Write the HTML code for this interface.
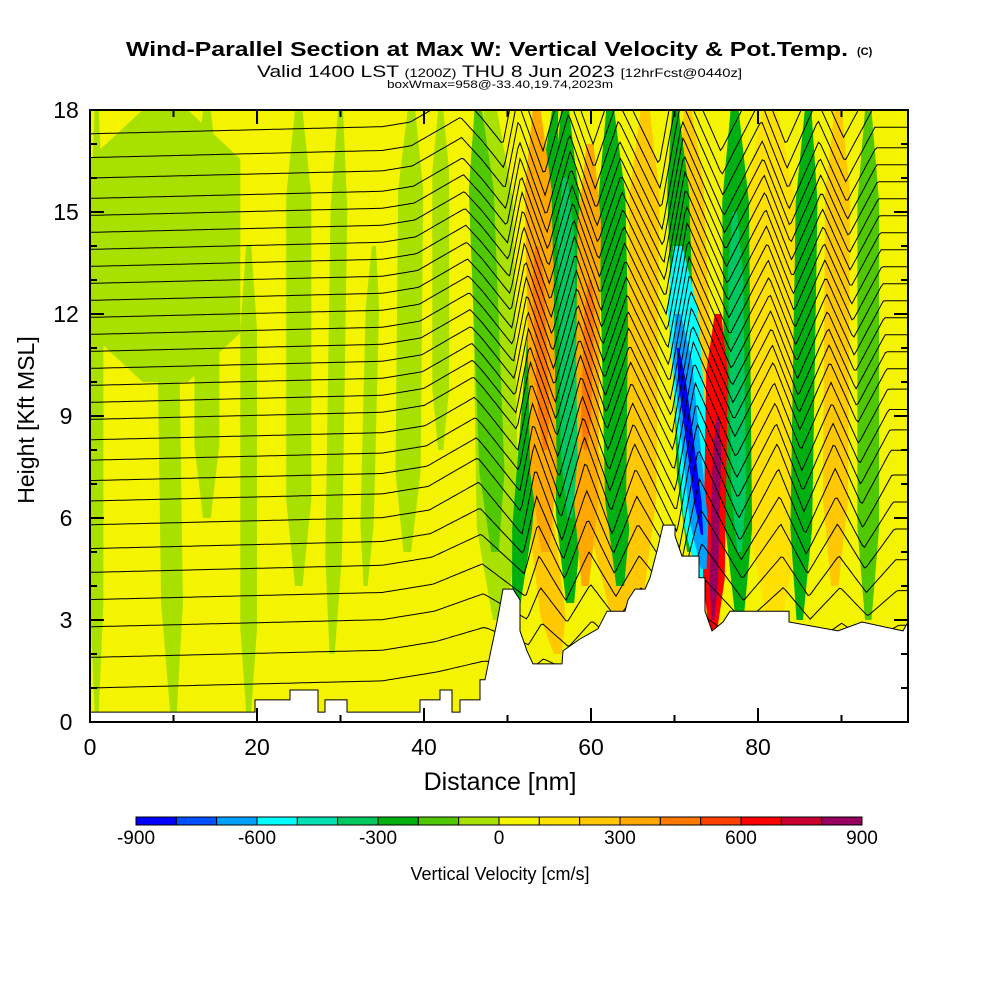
<!DOCTYPE html>
<html><head><meta charset="utf-8"><style>
html,body{margin:0;padding:0;background:#fff;width:1000px;height:1000px;overflow:hidden}
svg{display:block;font-family:"Liberation Sans",Arial,sans-serif}
</style></head><body>
<svg id="chart" width="1000" height="1000" viewBox="0 0 1000 1000">
<defs><clipPath id="plotclip"><rect x="90" y="110" width="818" height="612"/></clipPath></defs>
<text x="126" y="56" font-size="20" font-weight="bold" textLength="722" lengthAdjust="spacingAndGlyphs">Wind-Parallel Section at Max W: Vertical Velocity &amp; Pot.Temp.</text>
<text x="857" y="55" font-size="11" font-weight="bold">(C)</text>
<text x="257" y="77" font-size="17" textLength="485" lengthAdjust="spacingAndGlyphs">Valid 1400 LST <tspan font-size="12">(1200Z)</tspan> THU 8 Jun 2023 <tspan font-size="12">[12hrFcst@0440z]</tspan></text>
<text x="387" y="88" font-size="11" textLength="226" lengthAdjust="spacingAndGlyphs">boxWmax=958@-33.40,19.74,2023m</text>
<g id="plot" clip-path="url(#plotclip)">
<rect x="90" y="110" width="818" height="612" fill="#f4f400"/>
<g id="bands"></g>
<g id="contours"></g>
<path id="terrain" fill="#fff" stroke="#000" stroke-width="1"/>
</g>
<rect x="90" y="110" width="818" height="612" fill="none" stroke="#000" stroke-width="2"/>
<g id="axes"></g>
<text x="500" y="790" font-size="25" text-anchor="middle">Distance [nm]</text>
<text transform="translate(34,420) rotate(-90)" font-size="23" text-anchor="middle">Height [Kft MSL]</text>
<g id="colorbar"></g>
<text x="500" y="880" font-size="18" text-anchor="middle">Vertical Velocity [cm/s]</text>
</svg>
<script>
// colour scale
const wLevels = [-900,-800,-700,-600,-500,-400,-300,-200,-100,0,100,200,300,400,500,600,700,800,900];
const wColors = ["#0000ff","#0050ff","#00a0ff","#00ffff","#00e0b0","#00c860","#00b010","#50c800","#a8e000","#f4f400","#ffe000","#ffc800","#ffa800","#ff7800","#ff4000","#ff0000","#c80030","#980060"];
const cbTicks = [-900,-600,-300,0,300,600,900];
// velocity bands: top nm, bottom nm, half width nm, value cm/s, top kft, bottom kft
const bandTop = [0.8,9,9,14,19,25,30,34,38.5,42,48,46.5,55.7,53.5,53.5,56.9,56.9,59.9,59.9,62.3,66.5,70.1,71.6,70.4,70.4,70.4,75.2,75.2,77.2,77.2,81.4,86,89.6,93.2,53,60];
const bandBot = [0.8,9,10,14,19,25,29,33,38,42,49,48.5,50.9,54.5,54.5,57.5,57.5,59.3,59.3,63.5,65.9,71.9,73.7,73.5,73.5,73.3,74.6,74.6,77.8,77.8,82,85,89.2,93.2,56,66];
const bandHw  = [0.8,9,1.3,1.5,1.0,1.5,1.0,0.8,1.5,1.0,2.5,1.5,1.2,1.6,0.7,1.6,1.0,1.4,0.6,1.6,1.8,1.3,1.5,1.8,1.1,0.45,1.3,0.5,1.6,0.9,3,1.3,1.5,1.3,1.5,2.5];
const bandVal = [-50,-50,-50,-50,-50,-50,-50,-50,-50,-50,-50,-150,-250,300,450,-250,-400,300,450,-250,250,-300,250,-550,-700,-900,650,850,-250,-400,150,-250,250,-200,200,200];
const bandKTop= [18,18,18,18,14,18,18,14,18,18,18,18,18,18,14,18,16,17,13,18,18,18,18,14,12,11,12,9,18,15,18,18,18,18,8,8];
const bandKBot= [0.3,10,0.3,6,0.3,4,2,4,5,8,3,5,3,5,8,3.5,6,4,8,4,4,5,6,4,4.5,5.5,2.5,3,3,5,3,3,4,3,2,2];
// terrain
const terrNm  = [0,19.76,19.76,23.95,23.95,27.3,27.3,28.14,28.14,30.78,30.78,39.52,39.52,41.92,41.92,43.35,43.35,44.31,44.31,46.71,46.71,47.31,47.9,48.74,49.46,50.66,51.5,51.5,52.34,53.05,56.53,56.65,58.68,60.84,61.92,64.07,64.43,65.27,66.47,67.07,68.02,68.62,70.06,70.06,70.9,72.93,72.93,73.65,73.65,74.49,75.81,76.65,83.71,83.71,89.58,92.46,97.37,97.96];
const terrKft = [0.29,0.29,0.65,0.65,0.94,0.94,0.29,0.29,0.65,0.65,0.29,0.29,0.65,0.65,0.94,0.94,0.29,0.29,0.65,0.65,1.24,1.24,1.97,2.94,3.91,3.91,3.59,2.68,2.09,1.71,1.71,2.09,2.44,2.74,3.26,3.26,3.59,3.91,3.91,4.24,5.15,5.79,5.79,5.47,4.88,4.88,4.24,4.24,3.26,2.68,2.94,3.26,3.26,2.94,2.68,2.94,2.68,2.94];
// potential temperature contours: base height (kft) at west edge
const thetaBase = [1.0,1.9,2.8,3.6,4.4,5.1,5.8,6.5,7.1,7.7,8.3,8.9,9.4,9.9,10.4,10.9,11.4,11.9,12.4,12.9,13.4,13.9,14.4,14.9,15.4,16.0,16.6,17.3];
// wave crest(+)/trough(-) nodes
const waveNm  = [40,45.9,51.1,52.7,55.9,58.7,61.9,64.7,69.8,72.2,77.2,81.8,85.0,88.6,91.9,95.4];
const waveAmp = [0,0.6,-1.0,1.0,-1.2,1.2,-1.0,1.0,-1.6,1.6,-1.2,1.0,-1.0,1.0,-0.8,0.8];

const NS="http://www.w3.org/2000/svg";
const X = nm => 90 + nm*8.35;
const Y = k => 722 - k*34;
const xMax = 97.96;
function colorFor(v){for(let i=0;i<wColors.length;i++){if(v<wLevels[i+1])return wColors[i];}return wColors[wColors.length-1];}
function mk(tag,attrs,parent){const e=document.createElementNS(NS,tag);for(const k in attrs)e.setAttribute(k,attrs[k]);parent.appendChild(e);return e;}

const bandsG=document.getElementById('bands');
const order=bandVal.map((v,i)=>i).sort((a,b)=>Math.abs(bandVal[a])-Math.abs(bandVal[b]));
order.forEach(i=>{
  const kt=bandKTop[i],kb=bandKBot[i],h=kt-kb;
  const at=f=>bandTop[i]+(bandBot[i]-bandTop[i])*f;
  const fs=[0,0.18,0.82,1];
  const ws=[0.3,1,1,0.3];
  const left=[],right=[];
  fs.forEach((f,j)=>{const c=at(f),k=kt-h*f;left.push(X(c-bandHw[i]*ws[j]).toFixed(1)+','+Y(k).toFixed(1));right.unshift(X(c+bandHw[i]*ws[j]).toFixed(1)+','+Y(k).toFixed(1));});
  const p=mk('polygon',{points:left.concat(right).join(' '),fill:colorFor(bandVal[i])},bandsG);
  
  
});

function waveDisp(x,base){
  const fac=Math.min(1,base/6);
  const shift=-0.2*(base-9);
  const nx=waveNm.map(n=>n+shift);
  if(x<=nx[0])return 0;
  for(let i=0;i<nx.length-1;i++){
    if(x<=nx[i+1]){const t=(x-nx[i])/(nx[i+1]-nx[i]);return fac*(waveAmp[i]+(waveAmp[i+1]-waveAmp[i])*t);}
  }
  return fac*waveAmp[waveAmp.length-1];
}
const cG=document.getElementById('contours');
thetaBase.forEach((b,i)=>{
  let d='';
  for(let x=0;x<=xMax+0.3;x+=0.25){
    const rise=0.006*Math.min(x,35)+0.04*Math.max(0,Math.min(x,47)-35);
    const h=b+rise+waveDisp(x,b);
    d+=(x===0?'M':'L')+X(x).toFixed(1)+','+Y(h).toFixed(1);
  }
  const p=mk('path',{d:d,fill:'none',stroke:'#000','stroke-width':1},cG);
  
  
});

let td='M'+X(0)+','+Y(0);
terrNm.forEach((n,i)=>{td+='L'+X(n).toFixed(1)+','+Y(terrKft[i]).toFixed(1);});
td+='L'+X(xMax)+','+Y(0)+'Z';
document.getElementById('terrain').setAttribute('d',td);

const ax=document.getElementById('axes');
for(let k=0;k<=18;k++){
  const len=(k%3===0)?14:7;
  mk('line',{x1:90,y1:Y(k),x2:90+len,y2:Y(k),stroke:'#000','stroke-width':2},ax);
  mk('line',{x1:908,y1:Y(k),x2:908-len,y2:Y(k),stroke:'#000','stroke-width':2},ax);
  if(k%3===0){const t=mk('text',{x:66,y:Y(k)+8,'font-size':23,'text-anchor':'middle'},ax);t.textContent=k;
    
    }
}
for(let n=0;n<=90;n+=10){
  const len=(n%20===0)?14:7;
  mk('line',{x1:X(n),y1:722,x2:X(n),y2:722-len,stroke:'#000','stroke-width':2},ax);
  mk('line',{x1:X(n),y1:110,x2:X(n),y2:110+len,stroke:'#000','stroke-width':2},ax);
  if(n%20===0){const t=mk('text',{x:X(n),y:755,'font-size':23,'text-anchor':'middle'},ax);t.textContent=n;
    
    }
}

const cb=document.getElementById('colorbar');
const cbX=v=>136+(v+900)/1800*726;
wColors.forEach((c,i)=>{
  const r=mk('rect',{x:cbX(wLevels[i]),y:817,width:cbX(wLevels[i+1])-cbX(wLevels[i]),height:8,fill:c,stroke:'#000','stroke-width':1},cb);
  
  
});
cbTicks.forEach(v=>{
  const t=mk('text',{x:cbX(v),y:844,'font-size':19,'text-anchor':'middle'},cb);t.textContent=v;
  
  
});
</script>
</body></html>
